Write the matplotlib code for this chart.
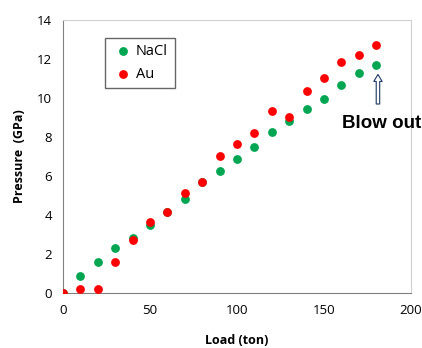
import numpy as np
import matplotlib
matplotlib.use('Agg')
import matplotlib.pyplot as plt

# load (ton) vs pressure (GPa)
load = [0, 10, 20, 30, 40, 50, 60, 70, 80, 90, 100, 110, 120, 130, 140, 150, 160, 170, 180]
nacl = [0, 0.87, 1.57, 2.29, 2.82, 3.5, 4.18, 4.81, 5.7, 6.26, 6.86, 7.47, 8.24, 8.82, 9.42, 9.93, 10.68, 11.28, 11.67]
au = [0, 0.22, 0.22, 1.57, 2.73, 3.65, 4.16, 5.15, 5.70, 7.03, 7.66, 8.2, 9.32, 9.01, 10.36, 11.02, 11.83, 12.19, 12.74]

plt.rcParams['font.family'] = ['Open Sans', 'DejaVu Sans']

fig = plt.figure(figsize=(4.22, 3.48), dpi=100)
ax = fig.add_axes([0.149, 0.158, 0.825, 0.7845])

ax.scatter(load, nacl, s=40, color='#00A651', label='NaCl', zorder=3, linewidths=0)
ax.scatter(load, au, s=40, color='#FF0000', label='Au', zorder=4, linewidths=0)

ax.set_xlim(0, 200)
ax.set_ylim(0, 14)
ax.set_xticks(np.arange(0, 201, 50))
ax.set_yticks(np.arange(0, 15, 2))
ax.tick_params(length=0, labelsize=9.5, pad=8)
ax.set_xlabel('Load (ton)', fontsize=9, fontweight='bold', labelpad=12)
ax.set_ylabel('Pressure  (GPa)', fontsize=9, fontweight='bold', labelpad=8)

for s in ['left', 'bottom']:
    ax.spines[s].set_color('#808080')
for s in ['right', 'top']:
    ax.spines[s].set_color('#d0d0d0')

leg = ax.legend(loc='upper left', bbox_to_anchor=(0.12, 0.935), fontsize=10.5,
                frameon=True, fancybox=False, handletextpad=0.1, borderpad=0.45,
                handlelength=1.6, labelspacing=0.5, borderaxespad=0)
leg.get_frame().set_edgecolor('#404040')
leg.get_frame().set_linewidth(1.0)

ax.annotate('', xy=(181, 11.35), xytext=(181, 9.55),
            arrowprops=dict(arrowstyle='simple,head_length=0.5,head_width=0.6,tail_width=0.25',
                            facecolor='white', edgecolor='#1F3864', lw=0.8))
ax.text(160.5, 8.7, 'Blow out', fontsize=13.5, fontweight='bold',
        family=['Liberation Sans', 'DejaVu Sans'], va='center', ha='left', clip_on=False)

fig.savefig('out.png', dpi=100)
